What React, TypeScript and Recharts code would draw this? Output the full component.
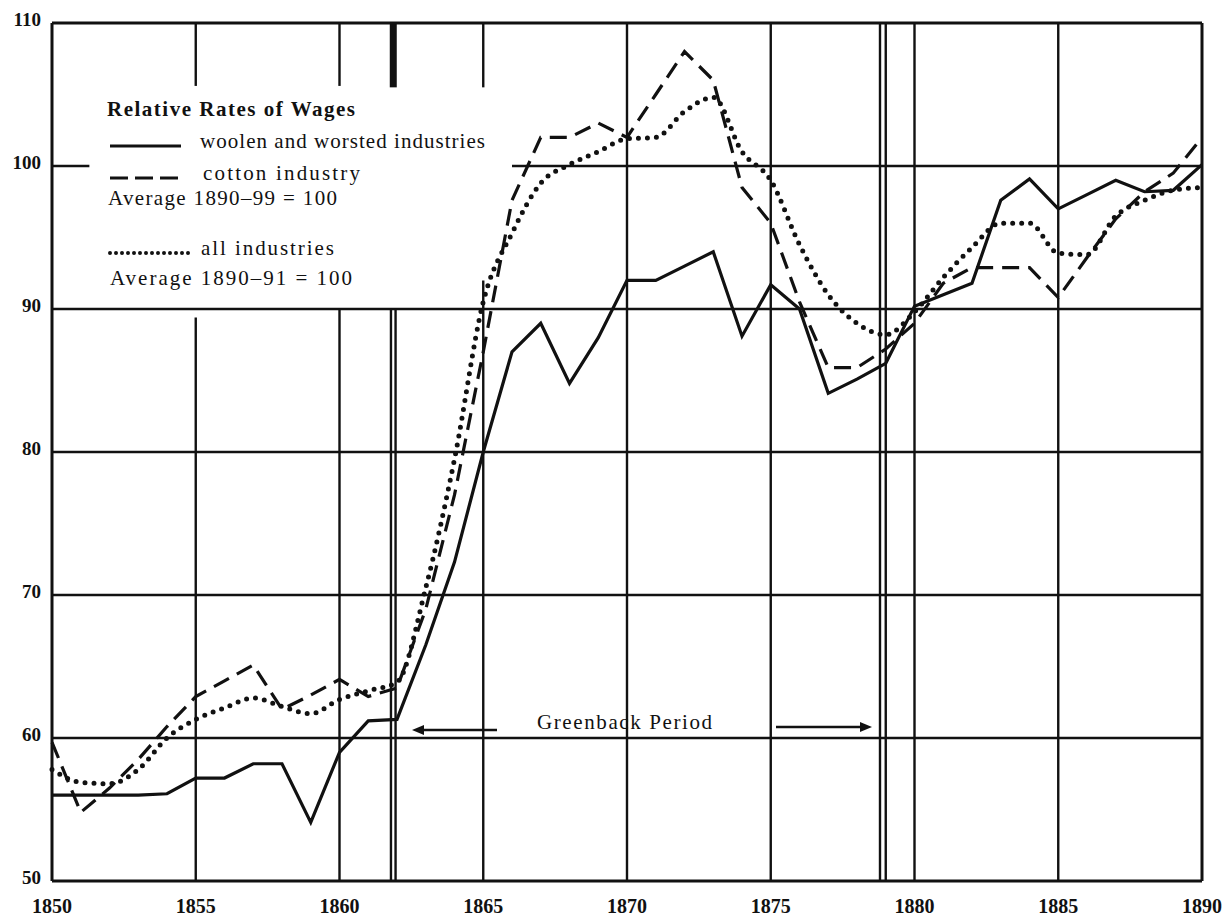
import { LineChart, Line, XAxis, YAxis, ReferenceLine } from 'recharts';

const years = [
  1850, 1851, 1852, 1853, 1854, 1855, 1856, 1857, 1858, 1859,
  1860, 1861, 1862, 1863, 1864, 1865, 1866, 1867, 1868, 1869,
  1870, 1871, 1872, 1873, 1874, 1875, 1876, 1877, 1878, 1879,
  1880, 1881, 1882, 1883, 1884, 1885, 1886, 1887, 1888, 1889, 1890,
];

// woolen and worsted industries (1890-99 = 100)
const woolen = [
  56, 56, 56, 56, 56.1, 57.2, 57.2, 58.2, 58.2, 54.1,
  59, 61.2, 61.3, 66.5, 72.3, 80, 87, 89, 84.8, 88,
  92, 92, 93, 94, 88.1, 91.7, 90, 84.1, 85.1, 86.2,
  90.2, 91, 91.8, 97.6, 99.1, 97, 98, 99, 98.2, 98.3, 100.1,
];

// cotton industry (1890-99 = 100)
const cotton = [
  59.7, 54.8, 56.5, 58.5, 60.8, 62.9, 64, 65.1, 62, 63,
  64.1, 62.9, 63.5, 69, 77, 87, 97.6, 102, 102, 103,
  102, 105, 108, 106, 98.5, 96, 90.5, 85.9, 85.9, 87.2,
  89, 91.8, 92.9, 92.9, 92.9, 90.8, 93.6, 96.3, 98.2, 99.5, 102,
];

// all industries (1890-91 = 100)
const allIndustries = [
  57.8, 56.9, 56.8, 57.8, 60, 61.3, 62.1, 62.8, 62.2, 61.7,
  62.7, 63.3, 63.9, 70.5, 79.5, 90.5, 95.3, 98.8, 100.1, 101,
  101.9, 102, 103.8, 104.8, 101, 99, 94.5, 91, 89, 88.2,
  89.8, 92.2, 94.3, 96, 96, 93.9, 93.8, 96.5, 97.6, 98.3, 98.5,
];

const yTicks = [50, 60, 70, 80, 90, 100, 110];
const xTicks = [1850, 1855, 1860, 1865, 1870, 1875, 1880, 1885, 1890];

const data = years.map((year, i) => ({
  year,
  woolen: woolen[i],
  cotton: cotton[i],
  all: allIndustries[i],
}));

const serif = '"Liberation Serif", "DejaVu Serif", serif';
const ink = '#111';

// grid: [x1, y1, x2, y2] in data units
const gridSegs: [number, number, number, number][] = [
  [1850, 60, 1890, 60],
  [1850, 70, 1890, 70],
  [1850, 80, 1890, 80],
  [1850, 90, 1890, 90],
  [1850, 100, 1851.3, 100],
  [1866, 100, 1890, 100],
  [1855, 50, 1855, 89.4],
  [1855, 105.6, 1855, 110],
  [1860, 50, 1860, 90],
  [1860, 105.6, 1860, 110],
  [1861.79, 50, 1861.79, 90],
  [1861.95, 50, 1861.95, 90],
  [1865, 50, 1865, 92],
  [1865, 105.5, 1865, 110],
  [1870, 50, 1870, 110],
  [1875, 50, 1875, 110],
  [1878.8, 50, 1878.8, 110],
  [1879.0, 50, 1879.0, 110],
  [1880, 50, 1880, 110],
  [1885, 50, 1885, 110],
];

const borderSegs: [number, number, number, number][] = [
  [1850, 50, 1890, 50],
  [1850, 110, 1890, 110],
  [1850, 50, 1850, 110],
  [1890, 50, 1890, 110],
];

function YTick(props: any) {
  const { y, payload } = props;
  return (
    <text x={41} y={y} dy={3} textAnchor="end" fontFamily={serif} fontWeight="bold" fontSize={19} fill={ink}>
      {payload.value}
    </text>
  );
}

function XTick(props: any) {
  const { x, payload } = props;
  return (
    <text x={x} y={913} textAnchor="middle" fontFamily={serif} fontWeight="bold" fontSize={20} fill={ink}>
      {payload.value}
    </text>
  );
}

function Overlay() {
  const txt = { fontFamily: serif, fill: ink, fontSize: 21, lengthAdjust: 'spacing' } as const;
  return (
    <svg width={1229} height={922} style={{ position: 'absolute', left: 0, top: 0, pointerEvents: 'none' }}>
      <text x={107} y={116} {...txt} fontWeight="bold" textLength={248}>Relative Rates of Wages</text>
      <line x1={110} y1={146} x2={181} y2={146} stroke={ink} strokeWidth={3} />
      <text x={200} y={148} {...txt} textLength={285}>woolen and worsted industries</text>
      <line x1={110} y1={178} x2={178} y2={178} stroke={ink} strokeWidth={3} strokeDasharray="18 7" />
      <text x={203} y={180} {...txt} textLength={157}>cotton industry</text>
      <text x={108} y={205} {...txt} textLength={229}>Average 1890–99 = 100</text>
      <line x1={110} y1={253} x2={192} y2={253} stroke={ink} strokeWidth={4} strokeDasharray="0 6" strokeLinecap="round" />
      <text x={201} y={255} {...txt} textLength={133}>all industries</text>
      <text x={110} y={285} {...txt} textLength={242}>Average 1890–91 = 100</text>

      <text x={537} y={729} {...txt} textLength={175}>Greenback Period</text>
      <line x1={497} y1={730} x2={420} y2={730} stroke={ink} strokeWidth={2.5} />
      <polygon points="412,730 424,725 424,735" fill={ink} />
      <line x1={776} y1={727} x2={862} y2={727} stroke={ink} strokeWidth={2.5} />
      <polygon points="872,727 860,722 860,732" fill={ink} />
    </svg>
  );
}

export default function App() {
  return (
    <div style={{ position: 'absolute', left: 0, top: 0, width: 1229, height: 922, background: '#fff' }}>
      <LineChart width={1229} height={922} data={data} margin={{ top: 23, right: 27, bottom: 11, left: 12 }}>
        <XAxis
          dataKey="year"
          type="number"
          domain={[1850, 1890]}
          ticks={xTicks}
          axisLine={false}
          tickLine={false}
          height={30}
          tick={<XTick />}
          interval={0}
        />
        <YAxis
          type="number"
          domain={[50, 110]}
          ticks={yTicks}
          axisLine={false}
          tickLine={false}
          width={40}
          tick={<YTick />}
          interval={0}
        />
        {gridSegs.map(([x1, y1, x2, y2], i) => (
          <ReferenceLine
            key={'g' + i}
            segment={[{ x: x1, y: y1 }, { x: x2, y: y2 }]}
            stroke={ink}
            strokeWidth={2.4}
          />
        ))}
        <ReferenceLine segment={[{ x: 1861.87, y: 105.5 }, { x: 1861.87, y: 110 }]} stroke={ink} strokeWidth={7} />
        {borderSegs.map(([x1, y1, x2, y2], i) => (
          <ReferenceLine
            key={'b' + i}
            segment={[{ x: x1, y: y1 }, { x: x2, y: y2 }]}
            stroke={ink}
            strokeWidth={3}
          />
        ))}
        <Line
          dataKey="woolen"
          type="linear"
          stroke={ink}
          strokeWidth={3.2}
          dot={false}
          isAnimationActive={false}
        />
        <Line
          dataKey="cotton"
          type="linear"
          stroke={ink}
          strokeWidth={3.2}
          strokeDasharray="17 9"
          dot={false}
          isAnimationActive={false}
        />
        <Line
          dataKey="all"
          type="monotone"
          stroke={ink}
          strokeWidth={5}
          strokeDasharray="0 9"
          strokeLinecap="round"
          dot={false}
          isAnimationActive={false}
        />
      </LineChart>
      <Overlay />
    </div>
  );
}
